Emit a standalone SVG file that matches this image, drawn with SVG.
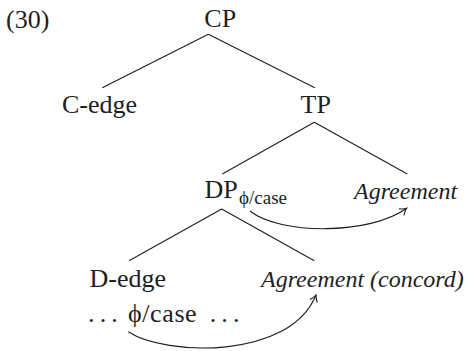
<svg xmlns="http://www.w3.org/2000/svg" width="467" height="351" viewBox="0 0 467 351">
<style>
text{font-family:"Liberation Serif","Times New Roman",serif;fill:#1e1e1e}
.r{font-size:26px}
.i{font-size:24px;font-style:italic}
.s{font-size:19px}
.e{stroke:#1e1e1e;stroke-width:1.1;fill:none}
</style>
<defs>
<marker id="ah" viewBox="-8 -5 10 10" markerWidth="10" markerHeight="10" refX="0" refY="0" orient="auto" markerUnits="userSpaceOnUse">
<path d="M-6.5,-4 Q-3,-1 0,0 Q-3,1 -6.5,4" fill="none" stroke="#1e1e1e" stroke-width="1.1"/>
</marker>
</defs>
<text class="r" x="6" y="28.3">(30)</text>
<g id="cp"><text class="r" x="204.3" y="26.7">CP</text></g>
<g id="cedge"><text class="r" x="62" y="113.3">C-edge</text></g>
<g id="tp"><text class="r" x="300.5" y="113.3">TP</text></g>
<g id="dp"><text class="r" x="204.5" y="198.3">DP<tspan class="s" x="239" y="203.5">ϕ/case</tspan></text></g>
<g id="agr"><text class="i" x="354" y="198.5">Agreement</text></g>
<g id="dedge"><text class="r" x="89.5" y="286.7">D-edge</text>
<text class="r" y="321.7"><tspan x="88">.</tspan><tspan x="99.7">.</tspan><tspan x="111.3">.</tspan><tspan x="128" letter-spacing="0.6">ϕ/case</tspan><tspan x="209.7">.</tspan><tspan x="221.3">.</tspan><tspan x="233">.</tspan></text></g>
<g id="agrc"><text class="i" x="261" y="286.7">Agreement (concord)</text></g>
<g id="connectors">
<path class="e" d="M208.3,34.3 L102.3,87.7 M208.3,34.3 L314.8,87.7"/>
<path class="e" d="M314.3,122.3 L222.3,174 M314.3,122.3 L407.3,174"/>
<path class="e" d="M221.7,209 L129,260.7 M221.7,209 L314.3,260.7"/>
<path class="e" marker-end="url(#ah)" d="M250,211 C280,235 370,235 406.7,208.3"/>
<path class="e" marker-end="url(#ah)" d="M128.3,331.7 C165,356 290,360 316,295"/>
</g>
</svg>
